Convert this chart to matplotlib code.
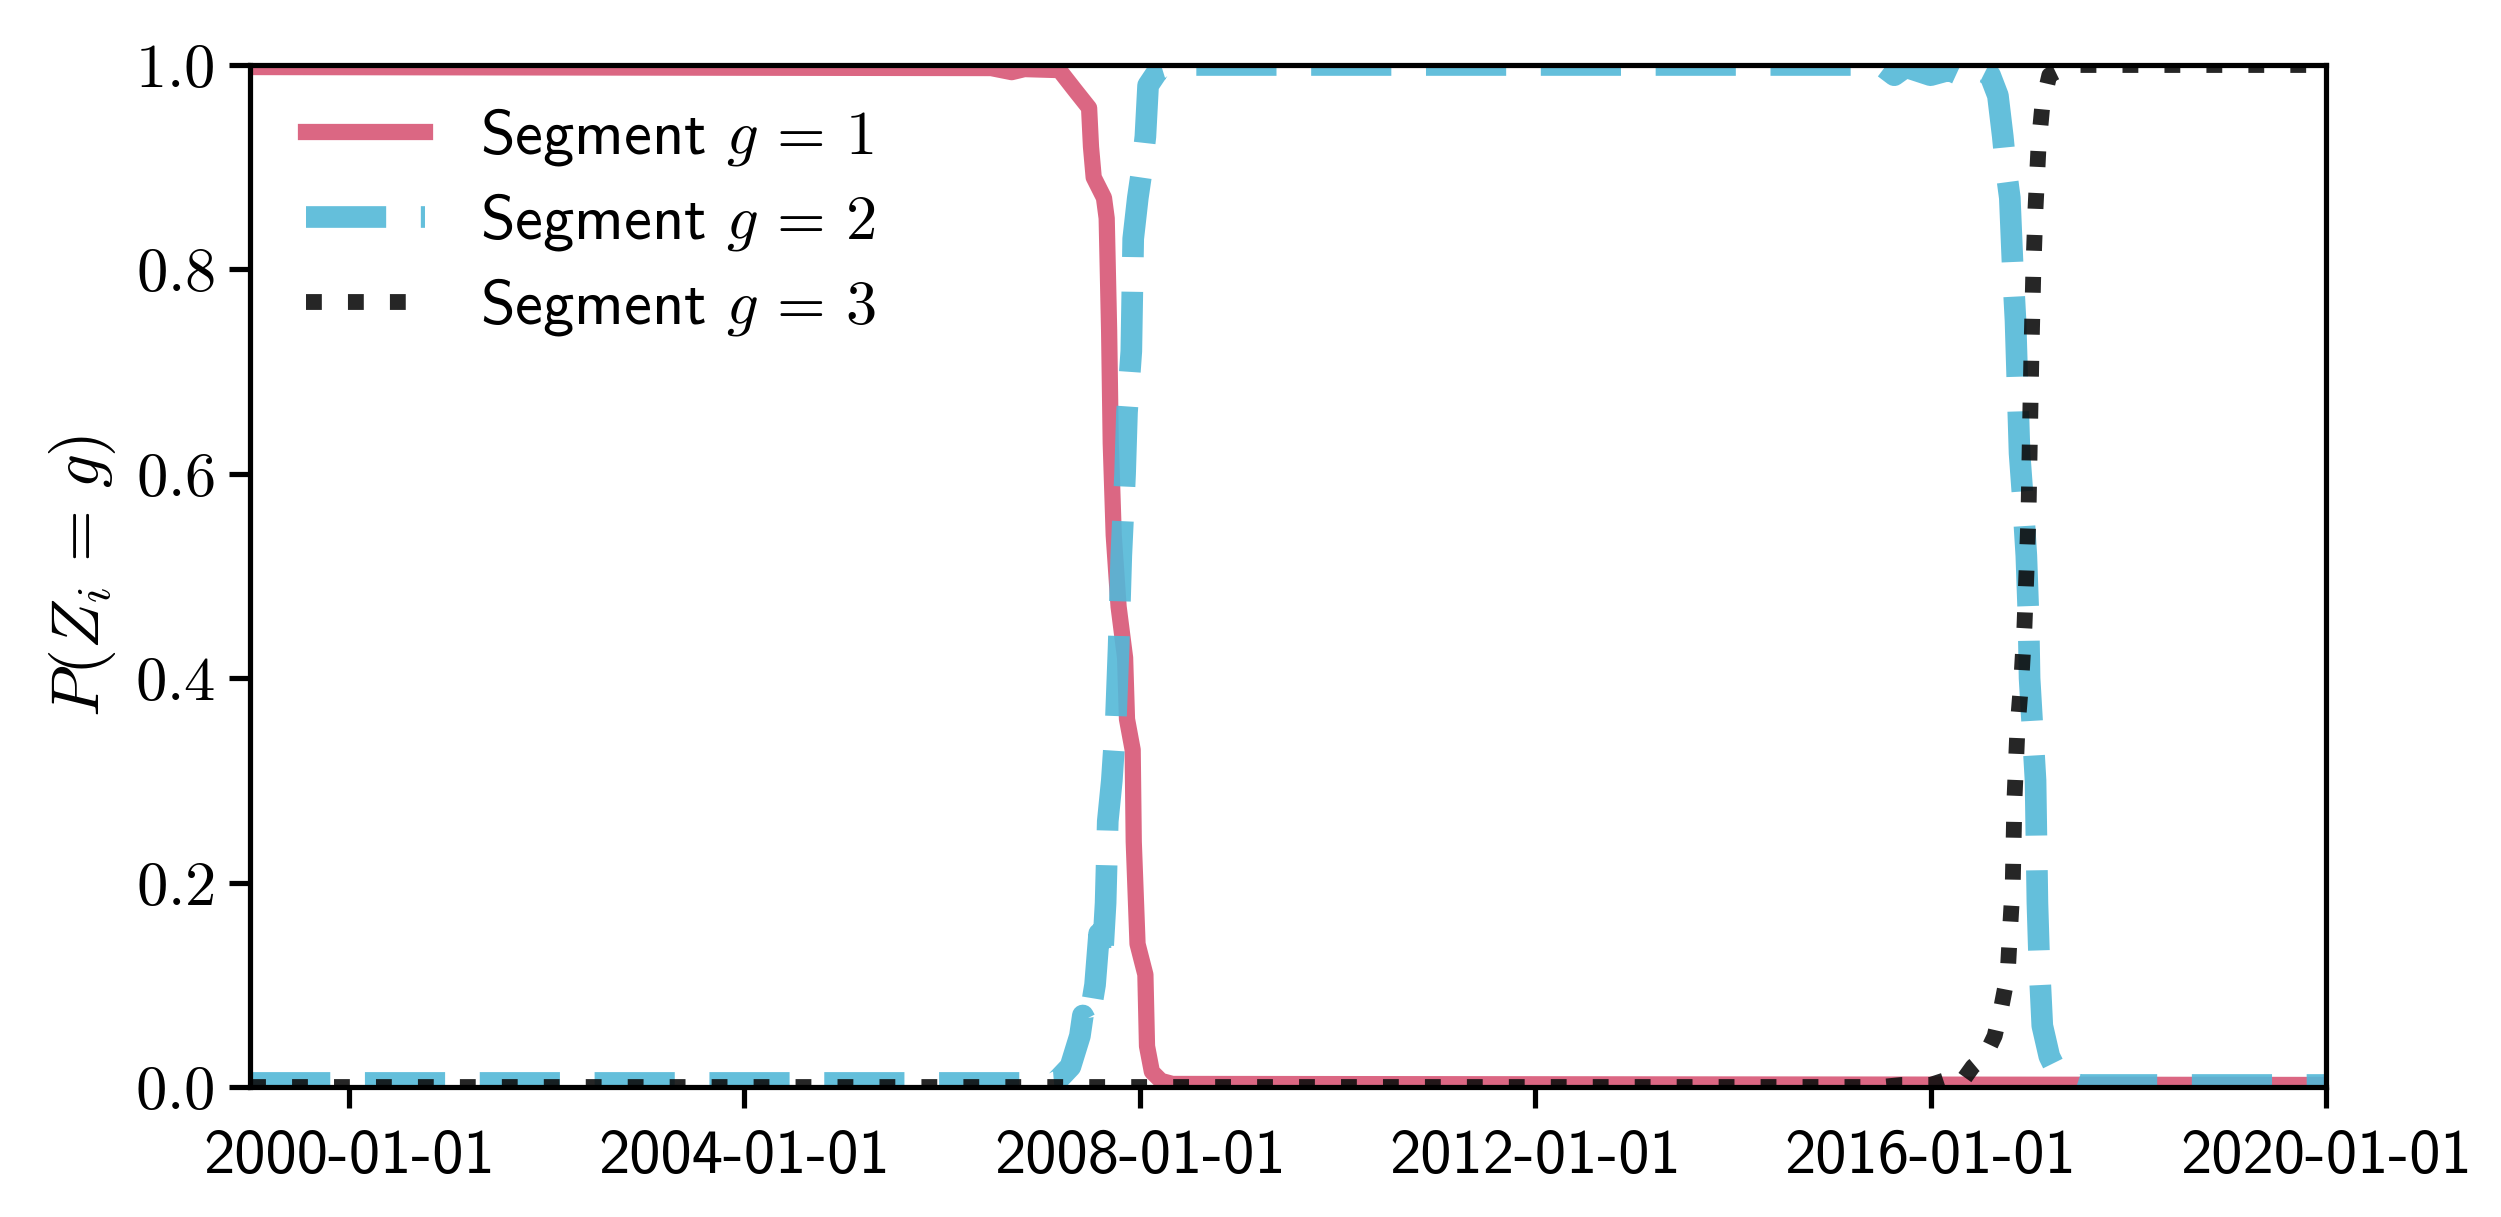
import matplotlib
matplotlib.use("Agg")
import matplotlib.pyplot as plt
import matplotlib.dates as mdates
from matplotlib.ticker import FuncFormatter, FixedLocator
import pandas as pd

# ---------------- data ----------------
seg1_dates = ["1999-01-01", "2006-07-01", "2006-09-15", "2006-11-01", "2007-03-10", "2007-05-08",
              "2007-06-28", "2007-07-05", "2007-07-15", "2007-08-22", "2007-09-01", "2007-09-10",
              "2007-09-16", "2007-09-27", "2007-10-15", "2007-11-08", "2007-11-15", "2007-12-06",
              "2007-12-10", "2007-12-24", "2008-01-22", "2008-01-28", "2008-02-15", "2008-03-20",
              "2008-05-01", "2020-01-01"]
seg1_prob = [0.998, 0.997, 0.993, 0.996, 0.995, 0.975,
             0.958, 0.92, 0.89, 0.87, 0.85, 0.74,
             0.63, 0.54, 0.47, 0.42, 0.36, 0.33,
             0.24, 0.14, 0.11, 0.04, 0.015, 0.006,
             0.003, 0.002]

seg2_dates = ["1999-01-01", "2006-12-01", "2007-03-01", "2007-04-20", "2007-05-25", "2007-06-05",
              "2007-06-25", "2007-07-20", "2007-08-04", "2007-08-15", "2007-08-28", "2007-09-05",
              "2007-09-20", "2007-10-05", "2007-10-15", "2007-10-25", "2007-11-08", "2007-11-15",
              "2007-12-01", "2007-12-08", "2007-12-25", "2008-01-05", "2008-01-22", "2008-02-01",
              "2008-03-10", "2008-05-10", "2015-07-01", "2015-08-20", "2015-10-01",
              "2016-01-01", "2016-03-10", "2016-04-20", "2016-05-25", "2016-08-08", "2016-09-06",
              "2016-09-24", "2016-10-05", "2016-10-20", "2016-10-31", "2016-11-10", "2016-11-25",
              "2016-12-06", "2016-12-20", "2016-12-28", "2017-01-01", "2017-01-12", "2017-01-23",
              "2017-01-30", "2017-02-06", "2017-02-17", "2017-03-15", "2017-04-25", "2017-07-01",
              "2020-01-01"]
seg2_prob = [0.004, 0.004, 0.006, 0.02, 0.05, 0.07,
             0.06, 0.10, 0.15, 0.12, 0.18, 0.26,
             0.30, 0.36, 0.43, 0.52, 0.60, 0.66,
             0.72, 0.83, 0.87, 0.89, 0.93, 0.98,
             0.995, 1.0, 1.0, 0.99, 0.998,
             0.99, 0.995, 0.99, 1.0, 0.99, 0.97,
             0.93, 0.90, 0.87, 0.80, 0.75, 0.62,
             0.58, 0.52, 0.46, 0.40, 0.35, 0.30,
             0.18, 0.12, 0.06, 0.03, 0.008, 0.002,
             0.002]

seg3_dates = ["1999-01-01", "2015-07-01", "2015-09-15", "2016-01-01", "2016-03-10", "2016-04-20",
              "2016-06-05", "2016-07-20", "2016-08-25", "2016-09-20", "2016-10-12", "2016-10-20",
              "2016-10-31", "2016-11-06", "2016-11-17", "2016-12-02", "2016-12-13", "2016-12-20",
              "2016-12-28", "2017-01-01", "2017-01-08", "2017-01-15", "2017-01-23", "2017-02-03",
              "2017-02-17", "2017-03-15", "2017-05-08", "2017-07-01", "2020-01-01"]
seg3_prob = [0.0, 0.0, 0.002, 0.002, 0.008, 0.003,
             0.02, 0.03, 0.05, 0.08, 0.11, 0.15,
             0.20, 0.28, 0.35, 0.40, 0.45, 0.50,
             0.56, 0.62, 0.72, 0.80, 0.86, 0.92,
             0.96, 0.99, 0.997, 1.0, 1.0]

legend_labels = [r"Segment $g\,=\,1$", r"Segment $g\,=\,2$", r"Segment $g\,=\,3$"]
xtick_dates = ["2000-01-01", "2004-01-01", "2008-01-01", "2012-01-01", "2016-01-01", "2020-01-01"]
yticks = [0.0, 0.2, 0.4, 0.6, 0.8, 1.0]
x_range = ["1999-01-01", "2020-01-01"]

# ---------------- style ----------------
plt.rcParams["mathtext.fontset"] = "cm"
plt.rcParams["font.family"] = ["cmss10", "DejaVu Sans"]
plt.rcParams["axes.formatter.use_mathtext"] = True
plt.rcParams["axes.unicode_minus"] = False
FS = 15

fig = plt.figure(figsize=(2501 / 300, 1217 / 300), dpi=300)
ax = fig.add_axes([0.100, 0.1068, 0.830, 0.8398])

ax.plot(pd.to_datetime(seg1_dates), seg1_prob, color="#D85676", lw=3.9, ls="-",
        alpha=0.9, label=legend_labels[0])
ax.plot(pd.to_datetime(seg2_dates), seg2_prob, color="#53B8D8", lw=5.2, ls="--",
        alpha=0.9, label=legend_labels[1])
ax.plot(pd.to_datetime(seg3_dates), seg3_prob, color="#0E0E0E", lw=3.8, ls=":",
        alpha=0.9, label=legend_labels[2])

ax.set_xlim(pd.to_datetime(x_range[0]), pd.to_datetime(x_range[1]))
ax.set_ylim(0, 1)
ax.xaxis.set_major_locator(FixedLocator(mdates.date2num(pd.to_datetime(xtick_dates))))
ax.xaxis.set_major_formatter(mdates.DateFormatter("%Y-%m-%d"))
ax.set_yticks(yticks)
ax.yaxis.set_major_formatter(FuncFormatter(lambda v, p: r"$%.1f$" % v))

for s in ax.spines.values():
    s.set_linewidth(1.25)
ax.tick_params(axis="both", which="major", direction="out", length=5, width=1.25,
               labelsize=FS, top=False, right=False)
ax.tick_params(axis="x", pad=5)

ax.set_ylabel(r"$P(Z_i\,=\,g)$", fontsize=16)

ax.legend(loc="upper left", bbox_to_anchor=(0.0, 1.015), frameon=False, fontsize=FS,
          handlelength=1.9, handletextpad=0.88, labelspacing=0.37)

fig.savefig("out.png", dpi=300)
